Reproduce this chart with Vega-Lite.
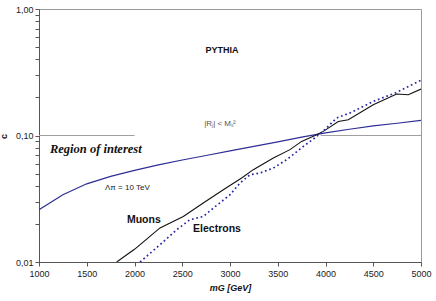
{
  "$schema": "https://vega.github.io/schema/vega-lite/v6.json",
  "width": 382,
  "height": 253,
  "autosize": {"type": "none"},
  "padding": {"left": 39, "top": 9, "right": 15, "bottom": 39},
  "background": "white",
  "config": {
    "view": {"stroke": "#9a9a9a", "strokeWidth": 1},
    "font": "Liberation Sans",
    "axis": {"grid": false, "tickColor": "#555", "domainColor": "#555", "labelFontSize": 9, "labelColor": "#222", "labelFlush": false, "titleFontSize": 9, "titleFontWeight": "bold", "titleColor": "#111"}
  },
  "datasets": {
    "lambda": [
      {"m": 1000, "c": 0.0259}, {"m": 1250, "c": 0.034}, {"m": 1500, "c": 0.0415},
      {"m": 1750, "c": 0.0475}, {"m": 2000, "c": 0.053}, {"m": 2250, "c": 0.0585},
      {"m": 2500, "c": 0.064}, {"m": 2750, "c": 0.0695}, {"m": 3000, "c": 0.0755},
      {"m": 3250, "c": 0.082}, {"m": 3500, "c": 0.089}, {"m": 3750, "c": 0.097},
      {"m": 4000, "c": 0.105}, {"m": 4250, "c": 0.112}, {"m": 4500, "c": 0.119},
      {"m": 4750, "c": 0.125}, {"m": 5000, "c": 0.1316}
    ],
    "muons": [
      {"m": 1813, "c": 0.01}, {"m": 2000, "c": 0.0126}, {"m": 2267, "c": 0.0186},
      {"m": 2511, "c": 0.0229}, {"m": 2720, "c": 0.0293}, {"m": 2930, "c": 0.0373},
      {"m": 3122, "c": 0.0461}, {"m": 3244, "c": 0.0537}, {"m": 3454, "c": 0.0664},
      {"m": 3628, "c": 0.0773}, {"m": 3750, "c": 0.0898}, {"m": 3890, "c": 0.0998},
      {"m": 3977, "c": 0.1078}, {"m": 4134, "c": 0.129}, {"m": 4239, "c": 0.133},
      {"m": 4500, "c": 0.175}, {"m": 4745, "c": 0.213}, {"m": 4867, "c": 0.21},
      {"m": 5000, "c": 0.233}
    ],
    "electrons": [
      {"m": 2058, "c": 0.01}, {"m": 2267, "c": 0.0137}, {"m": 2442, "c": 0.018},
      {"m": 2581, "c": 0.0216}, {"m": 2720, "c": 0.0229}, {"m": 2826, "c": 0.0267},
      {"m": 3000, "c": 0.034}, {"m": 3105, "c": 0.0421}, {"m": 3210, "c": 0.049},
      {"m": 3314, "c": 0.0505}, {"m": 3454, "c": 0.0553}, {"m": 3594, "c": 0.0644},
      {"m": 3768, "c": 0.082}, {"m": 3873, "c": 0.0938}, {"m": 3974, "c": 0.108},
      {"m": 4117, "c": 0.1375}, {"m": 4257, "c": 0.151}, {"m": 4500, "c": 0.186},
      {"m": 4745, "c": 0.219}, {"m": 5000, "c": 0.273}
    ],
    "ref": [
      {"m": 1000, "c": 0.1, "seg": "a"}, {"m": 2000, "c": 0.1, "seg": "a"},
      {"m": 3950, "c": 0.1, "seg": "b"}, {"m": 5000, "c": 0.1, "seg": "b"}
    ],
    "notes": [
      {"m": 2916, "c": 0.476, "label": "PYTHIA", "kind": "pythia"},
      {"m": 2895, "c": 0.124, "label": "|Rⱼ| < Mₛ²", "kind": "cond"},
      {"m": 1115, "c": 0.0787, "label": "Region of interest", "kind": "roi"},
      {"m": 1691, "c": 0.0387, "label": "Λπ = 10 TeV", "kind": "lam"},
      {"m": 1921, "c": 0.0216, "label": "Muons", "kind": "series"},
      {"m": 2613, "c": 0.0183, "label": "Electrons", "kind": "series"}
    ]
  },
  "layer": [
    {
      "data": {"name": "ref"},
      "mark": {"type": "line", "color": "#a0a0a0", "strokeWidth": 1},
      "encoding": {
        "x": {
          "field": "m", "type": "quantitative",
          "scale": {"domain": [1000, 5000], "nice": false},
          "axis": {
            "values": [1000, 1500, 2000, 2500, 3000, 3500, 4000, 4500, 5000],
            "format": "d", "tickSize": 4, "labelPadding": 3,
            "title": "mG [GeV]", "titleFontStyle": "italic", "titlePadding": 5
          }
        },
        "y": {
          "field": "c", "type": "quantitative",
          "scale": {"type": "log", "domain": [0.01, 1], "nice": false},
          "axis": {
            "values": [0.01, 0.02, 0.03, 0.04, 0.05, 0.06, 0.07, 0.08, 0.09, 0.1, 0.2, 0.3, 0.4, 0.5, 0.6, 0.7, 0.8, 0.9, 1],
            "labelExpr": "(datum.value == 0.01 || datum.value == 0.1 || datum.value == 1) ? replace(format(datum.value, '.2f'), '.', ',') : ''",
            "tickSize": 4, "labelPadding": 2,
            "title": "c", "titleX": -31, "titleY": 127, "titleAngle": 270
          }
        },
        "detail": {"field": "seg"}
      }
    },
    {
      "data": {"name": "lambda"},
      "mark": {"type": "line", "color": "#2e2e96", "strokeWidth": 1.2, "clip": true},
      "encoding": {
        "x": {"field": "m", "type": "quantitative"},
        "y": {"field": "c", "type": "quantitative"}
      }
    },
    {
      "data": {"name": "muons"},
      "mark": {"type": "line", "color": "#111111", "strokeWidth": 1.1, "clip": true},
      "encoding": {
        "x": {"field": "m", "type": "quantitative"},
        "y": {"field": "c", "type": "quantitative"}
      }
    },
    {
      "data": {"name": "electrons"},
      "mark": {"type": "line", "color": "#2828a8", "strokeWidth": 1.7, "strokeDash": [1.7, 2.8], "clip": true},
      "encoding": {
        "x": {"field": "m", "type": "quantitative"},
        "y": {"field": "c", "type": "quantitative"}
      }
    },
    {
      "data": {"name": "notes"},
      "transform": [{"filter": "datum.kind == 'pythia'"}],
      "mark": {"type": "text", "fontWeight": "bold", "fontSize": 9, "color": "#111", "align": "center", "baseline": "middle"},
      "encoding": {"x": {"field": "m", "type": "quantitative"}, "y": {"field": "c", "type": "quantitative"}, "text": {"field": "label"}}
    },
    {
      "data": {"name": "notes"},
      "transform": [{"filter": "datum.kind == 'cond'"}],
      "mark": {"type": "text", "fontSize": 8, "color": "#555", "align": "center", "baseline": "middle"},
      "encoding": {"x": {"field": "m", "type": "quantitative"}, "y": {"field": "c", "type": "quantitative"}, "text": {"field": "label"}}
    },
    {
      "data": {"name": "notes"},
      "transform": [{"filter": "datum.kind == 'roi'"}],
      "mark": {"type": "text", "font": "Liberation Serif", "fontWeight": "bold", "fontStyle": "italic", "fontSize": 12.5, "color": "#111", "align": "left", "baseline": "middle"},
      "encoding": {"x": {"field": "m", "type": "quantitative"}, "y": {"field": "c", "type": "quantitative"}, "text": {"field": "label"}}
    },
    {
      "data": {"name": "notes"},
      "transform": [{"filter": "datum.kind == 'lam'"}],
      "mark": {"type": "text", "fontSize": 8, "color": "#222", "align": "left", "baseline": "middle"},
      "encoding": {"x": {"field": "m", "type": "quantitative"}, "y": {"field": "c", "type": "quantitative"}, "text": {"field": "label"}}
    },
    {
      "data": {"name": "notes"},
      "transform": [{"filter": "datum.kind == 'series'"}],
      "mark": {"type": "text", "fontWeight": "bold", "fontSize": 10.5, "color": "#111", "align": "left", "baseline": "middle"},
      "encoding": {"x": {"field": "m", "type": "quantitative"}, "y": {"field": "c", "type": "quantitative"}, "text": {"field": "label"}}
    }
  ]
}
